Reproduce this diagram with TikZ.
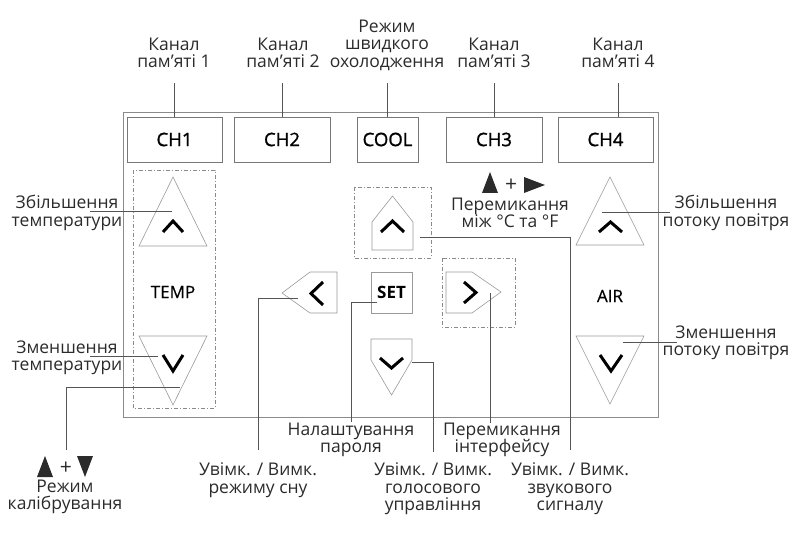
\documentclass[tikz,border=0pt]{standalone}
\usepackage{fontspec}
\setmainfont{Open Sans}
\newfontfamily\btnfont{Open Sans}[FakeBold=1.2]
\newfontfamily\midfont{Open Sans}[FakeBold=0.4]
\definecolor{txt}{HTML}{2B2B2B}
\definecolor{frame}{HTML}{8A8A8A}
\definecolor{boxc}{HTML}{777777}
\definecolor{trig}{HTML}{9A9A9A}
\definecolor{leadc}{HTML}{555555}
\definecolor{dashc}{HTML}{8A8A8A}
\begin{document}
\begin{tikzpicture}[x=1pt,y=-1pt,
  lbl/.style={font=\fontsize{17.5}{17.5}\selectfont, text=txt, align=center, inner sep=0pt},
  pluslbl/.style={font=\fontsize{21}{21}\selectfont, text=txt, inner sep=0pt},
  btn/.style={draw=boxc, line width=0.8pt, inner sep=0pt, text=black, font=\btnfont\fontsize{18.5}{19}\selectfont},
  btnlbl/.style={text=black, inner sep=0pt, font=\midfont\fontsize{17}{19}\selectfont},
  lead/.style={draw=leadc, line width=0.7pt},
  chev/.style={line width=3pt, draw=black, line cap=butt, line join=miter},
  tri/.style={draw=trig, line width=0.6pt},
  dbox/.style={draw=dashc, line width=0.7pt, dash pattern=on 4pt off 2pt on 1pt off 2pt},
  sym/.style={fill=txt, draw=none}
]
\useasboundingbox (0,0) rectangle (800,537);
% panel
\draw[draw=frame, line width=0.8pt] (123,112) rectangle (658,417);

% top buttons
\node[btn, minimum width=95pt, minimum height=45pt] (ch1) at (174.5,139.5) {CH1};
\node[btn, minimum width=96pt, minimum height=45pt] (ch2) at (282,139.5) {CH2};
\node[btn, minimum width=61pt, minimum height=45pt] (cool) at (387.5,139.5) {COOL};
\node[btn, minimum width=96pt, minimum height=45pt] (ch3) at (494,139.5) {CH3};
\node[btn, minimum width=95pt, minimum height=45pt] (ch4) at (605.5,139.5) {CH4};

% top labels
\node[lbl] (l1) at (174,53) {Канал\\пам'яті 1};
\node[lbl] (l2) at (283,53) {Канал\\пам'яті 2};
\node[lbl] (l3) at (387,45) {Режим\\швидкого\\охолодження};
\node[lbl] (l4) at (494,53) {Канал\\пам'яті 3};
\node[lbl] (l5) at (618,53) {Канал\\пам'яті 4};
\coordinate (t1) at (174.5,83);
\coordinate (t2) at (282,83);
\coordinate (t3) at (387.5,83);
\coordinate (t4) at (494,83);
\coordinate (t5) at (618,83);
\draw[lead] (t1) -- (t1 |- ch1.north);
\draw[lead] (t2) -- (t2 |- ch2.north);
\draw[lead] (t3) -- (t3 |- cool.north);
\draw[lead] (t4) -- (t4 |- ch3.north);
\draw[lead] (t5) -- (t5 |- ch4.north);

% left column
\draw[dbox] (133,170) rectangle (215,408);
\draw[tri] (173,177) -- (207,246) -- (139,246) -- cycle;
\draw[chev] (163,232) -- (173,221) -- (183,232);
\node[btnlbl] (temp) at (173,292) {TEMP};
\draw[tri] (139,336) -- (207,336) -- (173,405) -- cycle;
\draw[chev] (163,355) -- (173,371) -- (183,355);
\coordinate (tup) at (172,211);
\coordinate (tdn) at (158,356);
\coordinate (tcal) at (180,387);

\node[lbl] (lti) at (67,213) {Збільшення\\температури};
\node[lbl] (ltd) at (67,358) {Зменшення\\температури};
\draw[lead] (90,211) -- (tup);
\draw[lead] (90,356) -- (tdn);
\coordinate (cal) at (66,450);
\draw[lead] (tcal) -- (tcal -| cal) -- (cal);
\draw[sym] (37,477) -- (45,456) -- (53,477) -- cycle;
\node[pluslbl] (plus1) at (66,468) {+};
\draw[sym] (77,456) -- (93,456) -- (85,477) -- cycle;
\node[lbl] (lcal) at (65,497) {Режим\\калібрування};

% center column
\draw[dbox] (354,187) rectangle (431,258);
\draw[tri] (372,250) -- (372,222) -- (392.5,196) -- (413,222) -- (413,250) -- cycle;
\draw[chev] (381,232) -- (392.5,221) -- (404,232);
\coordinate (cup) at (420,237);
\coordinate (cbeep) at (570,450);
\draw[lead] (cup) -- (cup -| cbeep) -- (cbeep);

\draw[sym] (482,193) -- (490,172) -- (498,193) -- cycle;
\node[pluslbl] (plus2) at (511,185) {+};
\draw[sym] (524,177) -- (545,185) -- (524,193) -- cycle;
\node[lbl] (lcf) at (510,213) {Перемикання\\між °C та °F};

% left pentagon
\draw[tri] (282,293) -- (310,272) -- (337,272) -- (337,313) -- (310,313) -- cycle;
\draw[chev] (323,282) -- (311,293.5) -- (323,305);
\coordinate (cleft) at (298,298);
\coordinate (csleep) at (258,450);
\draw[lead] (cleft) -- (cleft -| csleep) -- (csleep);
\node[lbl] (lsleep) at (258,480) {Увімк. / Вимк.\\режиму сну};

% SET
\node[draw=trig, line width=0.7pt, minimum width=41pt, minimum height=41pt, inner sep=0pt, font=\fontsize{17}{18}\selectfont\bfseries] (set) at (391.5,292.5) {SET};
\coordinate (cset) at (377,302);
\coordinate (cpwd) at (351,422);
\draw[lead] (cset) -- (cset -| cpwd) -- (cpwd);
\node[lbl] (lpwd) at (351,440) {Налаштування\\пароля};

% right pentagon
\draw[dbox] (442,258) rectangle (515,327);
\draw[tri] (446,272) -- (472,272) -- (501,292) -- (472,313) -- (446,313) -- cycle;
\draw[chev] (464,282) -- (476,292.5) -- (464,303);
\coordinate (cright) at (490,293);
\coordinate (cif) at (490,423);
\draw[lead] (cright) -- (cif);
\node[lbl] (lif) at (502,440) {Перемикання\\інтерфейсу};

% down pentagon
\draw[tri] (371,339) -- (412,339) -- (412,360) -- (391.5,395) -- (371,360) -- cycle;
\draw[chev] (380,358) -- (391.5,368) -- (403,358);
\coordinate (cdn) at (412,362);
\coordinate (cvoice) at (433,452);
\draw[lead] (cdn) -- (cdn -| cvoice) -- (cvoice);
\node[lbl] (lvoice) at (433,489) {Увімк. / Вимк.\\голосового\\управління};
\node[lbl] (lbeep) at (570,489) {Увімк. / Вимк.\\звукового\\сигналу};

% right column
\draw[tri] (610,177) -- (644,245) -- (576,245) -- cycle;
\draw[chev] (599,232) -- (610.5,222) -- (622,232);
\node[btnlbl] (air) at (610,296) {AIR};
\draw[tri] (576,336) -- (644,336) -- (610,404) -- cycle;
\draw[chev] (600,355) -- (611,371) -- (622,355);
\node[lbl] (lai) at (726,213) {Збільшення\\потоку повітря};
\node[lbl] (lad) at (726,343) {Зменшення\\потоку повітря};
\coordinate (aup) at (602,212);
\coordinate (adn) at (623,342);
\draw[lead] (aup) -- (670,212);
\draw[lead] (adn) -- (677,342);
\end{tikzpicture}
\end{document}
